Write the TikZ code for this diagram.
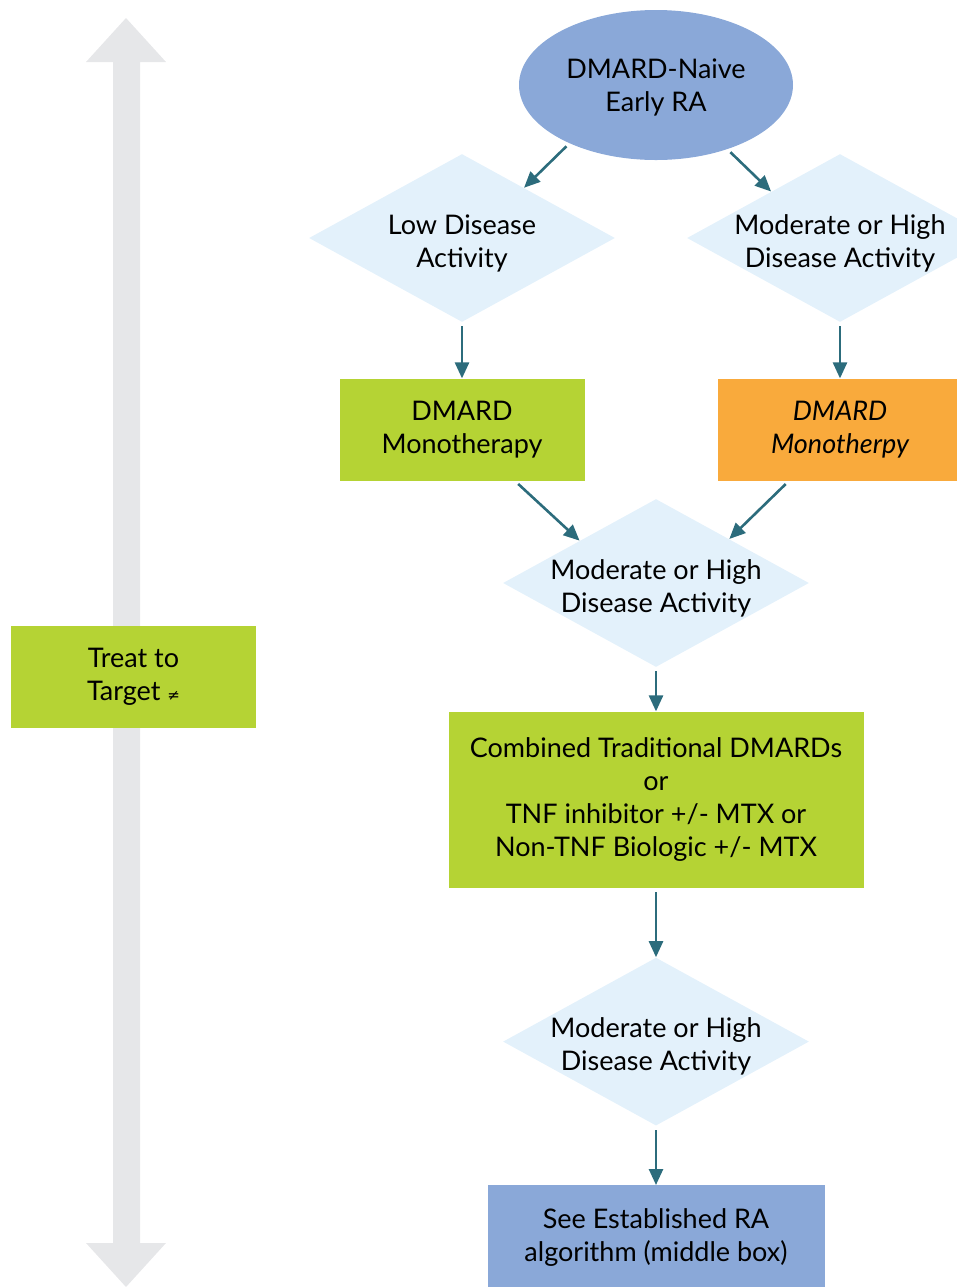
\documentclass[tikz,border=0pt]{standalone}
\usepackage{fontspec}
\setsansfont{Lato}
\newfontfamily\symfont{DejaVu Sans}
\usetikzlibrary{arrows.meta,positioning,shapes.geometric}

\begin{document}
\begin{tikzpicture}[
  x=0.5pt, y=-0.5pt,
  font=\sffamily\fontsize{13.5}{16.5}\selectfont,
  >={Triangle[length=8pt,width=7pt]},
  box/.style={rectangle, minimum width=122.5pt, minimum height=51pt, align=center, inner sep=0pt},
  dia/.style={diamond, fill=cdia, minimum width=153pt, minimum height=84pt, inner sep=0pt},
  dtext/.style={align=center, inner sep=0pt, yshift=-2.5pt},
  link/.style={->, draw=carrow, line width=1.3pt, shorten <=2pt}
]

\definecolor{cgreen}{RGB}{181,211,52}
\definecolor{corange}{RGB}{249,170,60}
\definecolor{cblue}{RGB}{138,168,216}
\definecolor{cdia}{RGB}{227,241,251}
\definecolor{cgray}{RGB}{230,231,233}
\definecolor{carrow}{RGB}{44,108,124}

\useasboundingbox (0,0) rectangle (957,1287);
\clip (0,0) rectangle (957,1287);

\fill[cgray] (126,18) -- (166,62) -- (140,62) -- (140,1243) -- (166,1243) -- (126,1287)
  -- (86,1243) -- (113,1243) -- (113,62) -- (86,62) -- cycle;

\node[box, fill=cgreen] (treat) at (133.5,676.5) {Treat to\\Target {\symfont\fontsize{7.5}{7.5}\selectfont ≠}};

\node[ellipse, fill=cblue, minimum width=137pt, minimum height=75pt, align=center, text depth=0pt] (naive) at (656,85) {DMARD-Naive\\Early RA};

\node[dia, label={[dtext]center:{Low Disease\\Activity}}] (low) at (462,238) {};
\node[dia, label={[dtext]center:{Moderate or High\\Disease Activity}}] (high) at (840,238) {};

\node[box, fill=cgreen, below=28pt of low] (mono) {DMARD\\Monotherapy};
\node[box, fill=corange, below=28pt of high, font=\sffamily\itshape\fontsize{13.5}{16.5}\selectfont] (monoit) {DMARD\\Monotherpy};

\node[dia, label={[dtext]center:{Moderate or High\\Disease Activity}}] (mid) at (656,583) {};

\node[box, fill=cgreen, minimum width=207.5pt, minimum height=88pt, below=22pt of mid] (combo) {Combined Traditional DMARDs\\or\\TNF inhibitor +/- MTX or\\Non-TNF Biologic +/- MTX};

\node[dia, below=34.5pt of combo, label={[dtext]center:{Moderate or High\\Disease Activity}}] (last) {};

\node[box, fill=cblue, minimum width=168.5pt, minimum height=52pt, below=29.5pt of last] (est) {See Established RA\\algorithm (middle box)};

\draw[link] (naive.-146) -- (low.39);
\draw[link] (naive.-42) -- (high.146);
\draw[link] (low) -- (mono);
\draw[link] (high) -- (monoit);
\draw[link] (mono.-44) -- (mid.151);
\draw[link] (monoit.-135) -- (mid.31);
\draw[link] (mid) -- (combo);
\draw[link] (combo) -- (last);
\draw[link] (last) -- (est);

\end{tikzpicture}
\end{document}
